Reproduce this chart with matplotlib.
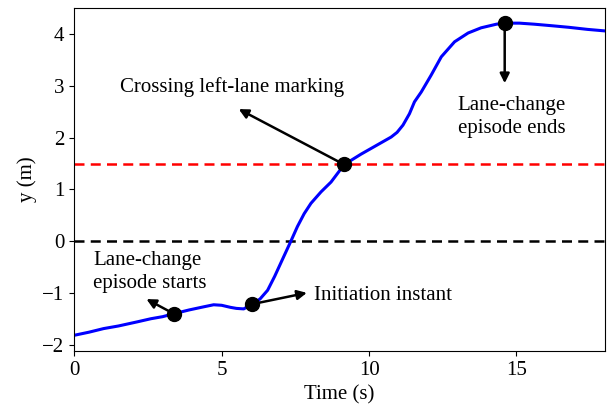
import matplotlib
matplotlib.use("Agg")
import matplotlib.pyplot as plt

plt.rcParams['font.family'] = ['Liberation Serif', 'DejaVu Serif']
plt.rcParams['mathtext.fontset'] = 'stix'
plt.rcParams['font.size'] = 15

# lateral position over time
t = [0.0, 0.5, 1.0, 1.5, 2.14, 2.6, 3.0, 3.4, 3.9, 4.39, 4.73, 5.0, 5.3, 5.5, 5.75,
     6.02, 6.3, 6.56, 6.8, 7.05, 7.35, 7.57, 7.8, 8.03, 8.37, 8.71, 9.16, 9.39, 9.73,
     10.07, 10.41, 10.75, 10.95, 11.15, 11.37, 11.54, 11.77, 12.1, 12.45, 12.9, 13.36,
     13.8, 14.32, 14.6, 15.1, 15.6, 16.2, 16.77, 17.4, 18.0]
y = [-1.82, -1.76, -1.69, -1.64, -1.56, -1.50, -1.46, -1.40, -1.33, -1.27, -1.23,
     -1.24, -1.28, -1.30, -1.31, -1.22, -1.12, -0.95, -0.68, -0.37, 0.0, 0.28, 0.53,
     0.73, 0.95, 1.14, 1.48, 1.56, 1.68, 1.79, 1.90, 2.01, 2.10, 2.24, 2.46, 2.69,
     2.88, 3.20, 3.56, 3.85, 4.02, 4.12, 4.19, 4.21, 4.21, 4.19, 4.16, 4.13, 4.09, 4.06]

lane_mark = 1.48

# key instants: (t, y)
starts = (3.4, -1.41)
initiation = (6.02, -1.22)
crossing = (9.15, 1.48)
ends = (14.6, 4.22)

fig = plt.figure(figsize=(6.08, 4.07), dpi=100)
ax = fig.add_axes([0.122, 0.138, 0.873, 0.842])

ax.axhline(0, color='black', linestyle='--', lw=1.8, dashes=(4, 2.5))
ax.axhline(lane_mark, color='red', linestyle='--', lw=1.8, dashes=(4, 2.5))
ax.plot(t, y, color='blue', lw=2.2)

for p in (starts, initiation, crossing, ends):
    ax.plot(p[0], p[1], 'o', color='black', ms=10)

arrow = dict(arrowstyle='-|>', color='black', lw=1.8, mutation_scale=14, shrinkA=0, shrinkB=0)

ax.annotate('', xy=(5.58, 2.55), xytext=crossing, arrowprops=arrow)
ax.text(5.34, 2.98, 'Crossing left-lane marking', ha='center', va='center')

ax.annotate('', xy=(14.6, 3.05), xytext=ends, arrowprops=arrow)
ax.text(14.83, 2.4, 'Lane-change\nepisode ends', ha='center', va='center', linespacing=1.3)

ax.annotate('', xy=(2.45, -1.12), xytext=starts, arrowprops=arrow)
ax.text(0.65, -0.6, 'Lane-change\nepisode starts', ha='left', va='center', linespacing=1.3)

ax.annotate('', xy=(7.89, -1.0), xytext=initiation, arrowprops=arrow)
ax.text(8.13, -1.05, 'Initiation instant', ha='left', va='center')

ax.set_xlim(0, 18)
ax.set_ylim(-2.12, 4.5)
ax.set_xticks([0, 5, 10, 15])
ax.set_yticks([-2, -1, 0, 1, 2, 3, 4])
ax.set_xlabel('Time (s)')
ax.set_ylabel('y (m)')

fig.savefig('out.png', dpi=100)
